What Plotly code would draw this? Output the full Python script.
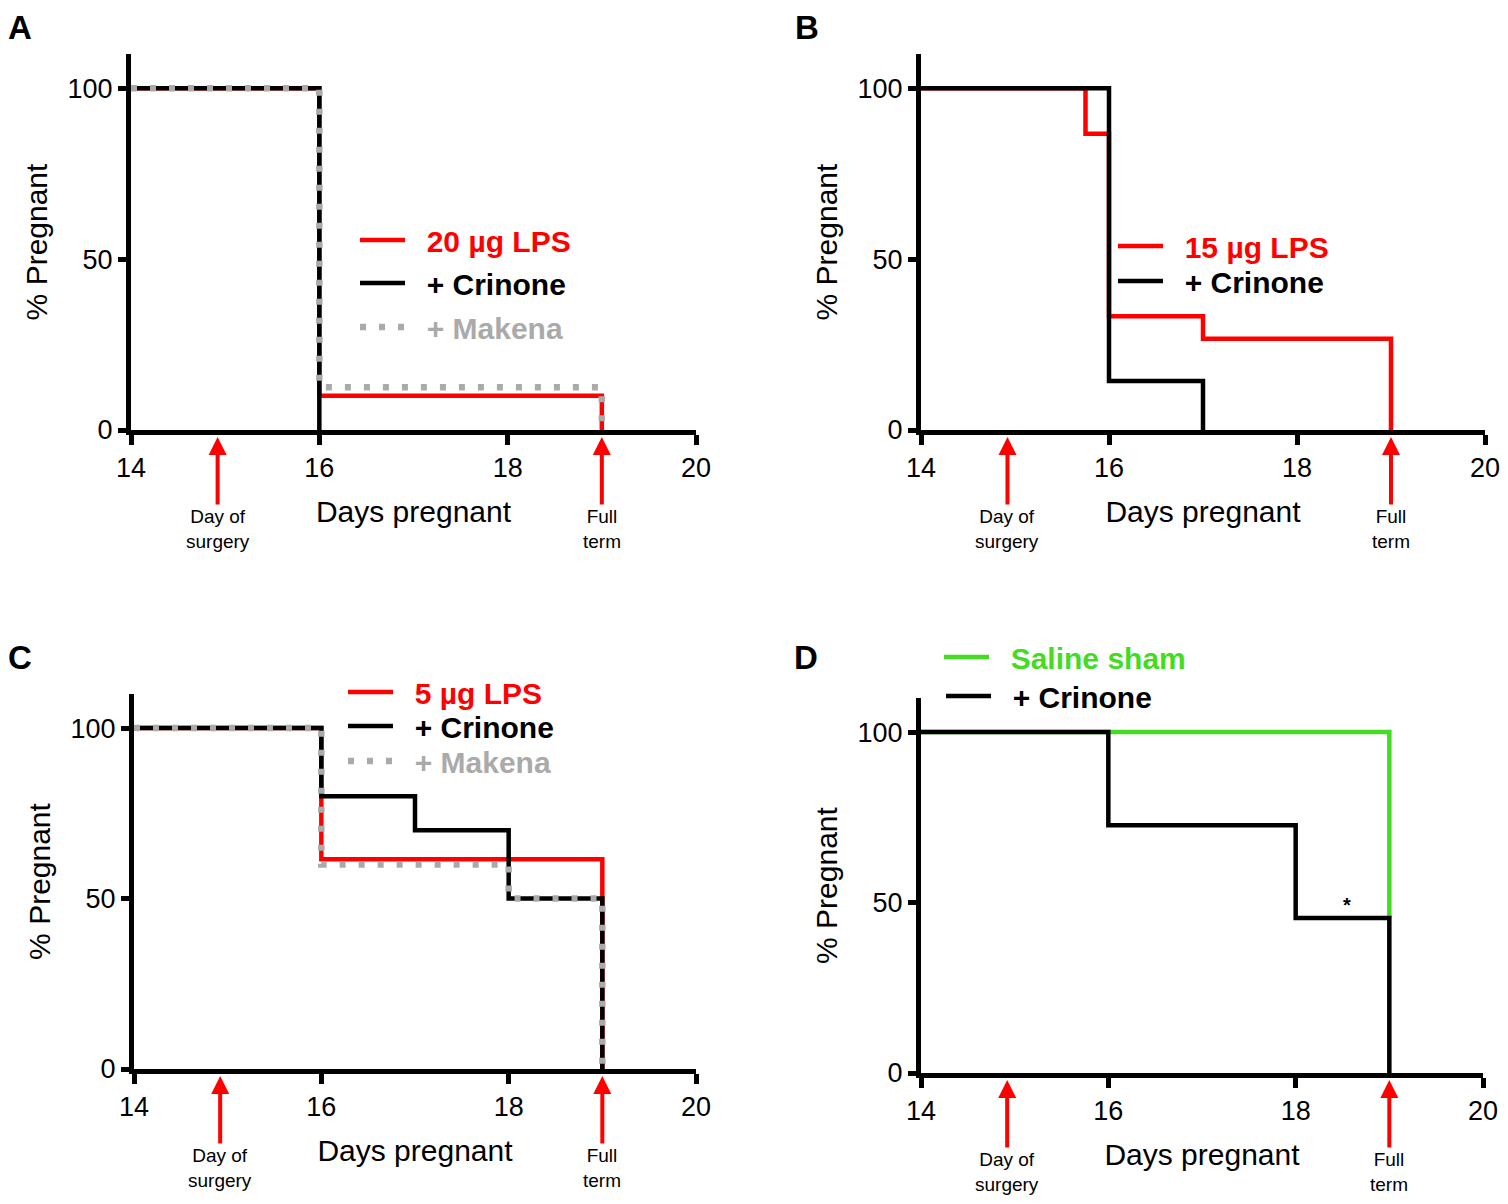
import plotly.graph_objects as go

# ---------------- data ----------------
# Panel A
a_lps_x = [14, 16, 19]
a_lps_y = [100, 10, 0]
a_cri_x = [14, 16]
a_cri_y = [100, 0]
a_mak_x = [14, 16, 19]
a_mak_y = [100, 12.5, 0]
# Panel B
b_lps_x = [14, 15.75, 16, 17, 19]
b_lps_y = [100, 86.7, 33.3, 26.7, 0]
b_cri_x = [14, 16, 17]
b_cri_y = [100, 14.3, 0]
# Panel C
c_lps_x = [14, 16, 19]
c_lps_y = [100, 61.5, 0]
c_cri_x = [14, 16, 17, 18, 19]
c_cri_y = [100, 80, 70, 50, 0]
c_mak_x = [14, 16, 18, 19]
c_mak_y = [100, 60, 50, 0]
# Panel D
d_sal_x = [14, 19]
d_sal_y = [100, 45.5]
d_cri_x = [14, 16, 18, 19]
d_cri_y = [100, 72.7, 45.5, 0]

x_ticks = [14, 16, 18, 20]
y_ticks = [0, 50, 100]
events = [14.92, 19]
event_labels = ["Day of<br>surgery", "Full<br>term"]

RED = "#ff0000"
BLACK = "#000000"
GRAY = "#aaaaaa"
GREEN = "#44dc22"
FONT = "Arial, Liberation Sans, sans-serif"

W, H = 1508, 1204
PAGE = 8  # default body margin of the html page

def fx(p):
    return (p - PAGE) / W

def fy(p):
    return 1 - (p - PAGE) / H

panels = {
    1: dict(xd=[fx(131), fx(696)], yd=[fy(430), fy(54)]),
    2: dict(xd=[fx(921), fx(1485)], yd=[fy(430), fy(54)]),
    3: dict(xd=[fx(134), fx(696)], yd=[fy(1069), fy(694)]),
    4: dict(xd=[fx(921), fx(1483)], yd=[fy(1073), fy(698)]),
}

fig = go.Figure()

def lname(text, color):
    return f'&nbsp;&nbsp;<b><span style="color:{color}">{text}</span></b>'

legend_pos = {}
leg_count = [0]

def add(n, x, y, name, color, lx, ly, dot=False):
    ax = "" if n == 1 else str(n)
    leg_count[0] += 1
    lg = "legend" if leg_count[0] == 1 else f"legend{leg_count[0]}"
    legend_pos[lg] = (lx, ly)
    line = dict(color=color, width=4.5, shape="hv")
    if dot:
        line["dash"] = "6px,13px"
        line["width"] = 6.5
    fig.add_trace(go.Scatter(
        x=x, y=y, mode="lines", line=line, name=lname(name, color),
        xaxis="x" + ax, yaxis="y" + ax, legend=lg,
        hoverinfo="skip"))

add(1, a_lps_x, a_lps_y, "20 µg LPS", RED, 360, 242)
add(1, a_cri_x, a_cri_y, "+ Crinone", BLACK, 360, 285)
add(1, a_mak_x, a_mak_y, "+ Makena", GRAY, 360, 329, dot=True)

add(2, b_lps_x, b_lps_y, "15 µg LPS", RED, 1118, 248)
add(2, b_cri_x, b_cri_y, "+ Crinone", BLACK, 1118, 283)

add(3, c_lps_x, c_lps_y, "5 µg LPS", RED, 348, 694)
add(3, c_cri_x, c_cri_y, "+ Crinone", BLACK, 348, 728)
add(3, c_mak_x, c_mak_y, "+ Makena", GRAY, 348, 763, dot=True)

add(4, d_sal_x, d_sal_y, "Saline sham", GREEN, 944, 659)
add(4, d_cri_x, d_cri_y, "+ Crinone", BLACK, 946, 698)

layout = dict(
    width=W, height=H, margin=dict(l=0, r=0, t=0, b=0, autoexpand=False),
    paper_bgcolor="white", plot_bgcolor="white",
    font=dict(family=FONT, color="black"),
    showlegend=True,
)

for n, p in panels.items():
    ax = "" if n == 1 else str(n)
    layout["xaxis" + ax] = dict(
        domain=p["xd"], anchor="y" + ax, range=[14, 20], tickvals=x_ticks,
        showline=True, linecolor="black", linewidth=5, ticks="outside",
        ticklen=10, tickwidth=4.5, tickcolor="black", showgrid=False,
        zeroline=False, tickfont=dict(size=27, family=FONT), automargin=False,
        title=dict(text="Days pregnant", font=dict(size=30, family=FONT), standoff=20),
        fixedrange=True)
    layout["yaxis" + ax] = dict(
        domain=p["yd"], anchor="x" + ax, range=[0, 110], tickvals=y_ticks,
        showline=True, linecolor="black", linewidth=5, ticks="outside",
        ticklen=8, tickwidth=4.5, tickcolor="black", showgrid=False,
        zeroline=False, tickfont=dict(size=27, family=FONT), automargin=False,
        title=dict(text="% Pregnant", font=dict(size=30, family=FONT), standoff=13),
        fixedrange=True)

OFFX = 5
OFFY = 2
for lg, (lx, ly) in legend_pos.items():
    layout[lg] = dict(bgcolor="rgba(0,0,0,0)", borderwidth=0, itemwidth=45,
                      font=dict(size=30, family=FONT), xanchor="left", yanchor="middle",
                      x=fx(lx - OFFX), y=fy(ly - OFFY),
                      itemclick=False, itemdoubleclick=False)

fig.update_layout(**layout)

annotations = []
for n in panels:
    ax = "" if n == 1 else str(n)
    for ev, lab in zip(events, event_labels):
        annotations.append(dict(
            x=ev, y=0, xref="x" + ax, yref="y" + ax, text=lab,
            showarrow=True, ax=0, ay=99, arrowcolor=RED, arrowwidth=4,
            arrowhead=2, arrowsize=0.9, standoff=7,
            font=dict(size=19, family=FONT, color="black")))

letters = [("A", 20, 8), ("B", 807, 8), ("C", 20, 638), ("D", 806, 638)]
for t, px, py in letters:
    annotations.append(dict(x=fx(px), y=fy(py), xref="paper", yref="paper",
                            xanchor="center", yanchor="top", borderpad=0,
                            text=f"<b>{t}</b>", showarrow=False,
                            font=dict(size=33, family=FONT, color="black")))

annotations.append(dict(x=18.55, y=45.5, xref="x4", yref="y4", text="<b>*</b>",
                        showarrow=False, yanchor="bottom", yshift=0,
                        font=dict(size=20, family=FONT, color="black")))

fig.update_layout(annotations=annotations)

fig.write_html("out.html")
